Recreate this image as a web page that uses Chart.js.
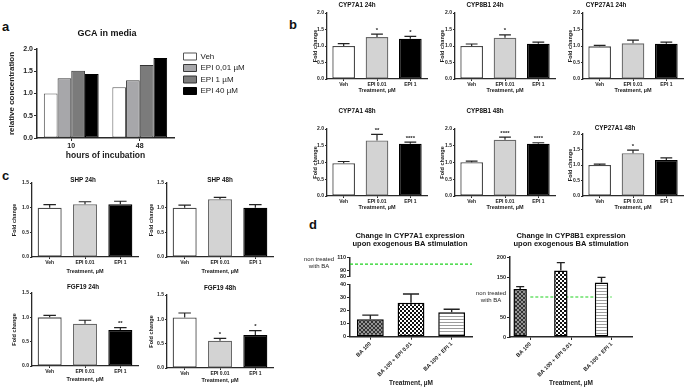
<!DOCTYPE html>
<html>
<head>
<meta charset="utf-8">
<script src="https://cdn.jsdelivr.net/npm/chart.js@4.4.1/dist/chart.umd.min.js"></script>
<style>
    body { margin: 0; background: #fff; width: 685px; height: 387px; position: relative; overflow: hidden; font-family: 'Liberation Sans', Arial, sans-serif; }
    canvas { position: absolute; }
    .panel { position: absolute; font-weight: bold; font-size: 13px; line-height: 1; color: #111; }
</style>
</head>
<body>
<div class="panel" style="left:2px;top:20px">a</div>
<div class="panel" style="left:289px;top:18px">b</div>
<div class="panel" style="left:2px;top:169px">c</div>
<div class="panel" style="left:309px;top:218px">d</div>
<script>
// panel a: GCA in media
const gcaHours = ['10', '48'];
const gcaSeries = ['Veh', 'EPI 0,01 µM', 'EPI 1 µM', 'EPI 40 µM'];
const gcaVeh = [1.00, 1.14];
const gcaEpi001 = [1.34, 1.30];
const gcaEpi1 = [1.51, 1.64];
const gcaEpi40 = [1.44, 1.80];

// panels b and c: fold change, mean + error
const treatments = ['Veh', 'EPI 0.01', 'EPI 1'];
const cyp7a1h24 = [1.00, 1.27, 1.22];
const cyp7a1h24Err = [0.07, 0.09, 0.07];
const cyp7a1h24Sig = ['', '*', '*'];
const cyp8b1h24 = [1.00, 1.25, 1.07];
const cyp8b1h24Err = [0.06, 0.09, 0.05];
const cyp8b1h24Sig = ['', '*', ''];
const cyp27a1h24 = [0.99, 1.08, 1.07];
const cyp27a1h24Err = [0.03, 0.10, 0.05];
const cyp27a1h24Sig = ['', '', ''];
const cyp7a1h48 = [0.98, 1.66, 1.56];
const cyp7a1h48Err = [0.05, 0.18, 0.05];
const cyp7a1h48Sig = ['', '**', '****'];
const cyp8b1h48 = [1.01, 1.68, 1.56];
const cyp8b1h48Err = [0.03, 0.08, 0.03];
const cyp8b1h48Sig = ['', '****', '****'];
const cyp27a1h48 = [1.00, 1.38, 1.16];
const cyp27a1h48Err = [0.03, 0.10, 0.07];
const cyp27a1h48Sig = ['', '*', ''];
const shpH24 = [1.00, 1.07, 1.07];
const shpH24Err = [0.06, 0.05, 0.06];
const shpH48 = [1.00, 1.17, 1.00];
const shpH48Err = [0.05, 0.04, 0.06];
const fgf19h24 = [1.00, 0.87, 0.74];
const fgf19h24Err = [0.04, 0.07, 0.05];
const fgf19h24Sig = ['', '', '**'];
const fgf19h48 = [1.04, 0.56, 0.68];
const fgf19h48Err = [0.09, 0.05, 0.09];
const fgf19h48Sig = ['', '*', '*'];

// panel d: expression after BA stimulation
const baGroups = ['BA 100', 'BA 100 + EPI 0.01', 'BA 100 + EPI 1'];
const cyp7a1Ba = [13.3, 26.0, 18.6];
const cyp7a1BaErr = [3.2, 6.6, 2.3];
const cyp8b1Ba = [120, 166, 136];
const cyp8b1BaErr = [6, 20, 13];
const nonTreated = 100;

const FONT = "'Liberation Sans', Arial, Helvetica, sans-serif";
Chart.defaults.font.family = FONT;
Chart.defaults.font.weight = 'bold';
Chart.defaults.color = '#222';
Chart.defaults.animation = false;
Chart.defaults.responsive = false;
Chart.defaults.plugins.tooltip.enabled = false;
Chart.defaults.plugins.legend.display = false;

const AXIS = '#2a2a2a';
const fillColors = ['#ffffff', '#d3d3d3', '#000000'];
const edgeColors = ['#4a4a4a', '#6a6a6a', '#000000'];

// error bars (upper half only) and significance stars
const errorBars = {
    id: 'errorBars',
    afterDatasetsDraw(chart) {
        const ctx = chart.ctx;
        chart.data.datasets.forEach((ds, di) => {
            if (!ds.errors) return;
            const meta = chart.getDatasetMeta(di);
            const ys = chart.scales[meta.yAxisID];
            meta.data.forEach((bar, i) => {
                const top = ys.getPixelForValue(ds.data[i] + ds.errors[i]);
                const half = bar.width * (ds.capRatio || 0.26);
                ctx.save();
                ctx.strokeStyle = '#222';
                ctx.lineWidth = ds.errWidth || 1.2;
                ctx.beginPath();
                ctx.moveTo(bar.x, bar.y);
                ctx.lineTo(bar.x, top);
                ctx.moveTo(bar.x - half, top);
                ctx.lineTo(bar.x + half, top);
                ctx.stroke();
                if (ds.stars && ds.stars[i]) {
                    ctx.fillStyle = '#222';
                    ctx.font = 'bold 6px ' + FONT;
                    ctx.textAlign = 'center';
                    ctx.textBaseline = 'bottom';
                    ctx.fillText(ds.stars[i], bar.x, top - 1);
                }
                ctx.restore();
            });
        });
    }
};

// chart title placed relative to the plot area
const heading = {
    id: 'heading',
    afterDraw(chart, args, o) {
        if (!o.lines) return;
        const { ctx, chartArea } = chart;
        ctx.save();
        ctx.font = 'bold ' + o.size + 'px ' + FONT;
        ctx.fillStyle = '#111';
        ctx.textAlign = 'center';
        ctx.textBaseline = 'middle';
        const x = (chartArea.left + chartArea.right) / 2 + (o.dx || 0);
        o.lines.forEach((t, i) => ctx.fillText(t, x, chartArea.top + o.dy + i * (o.gap || 0)));
        ctx.restore();
    }
};

// "non treated with BA" note next to the reference line
const refNote = {
    id: 'refNote',
    afterDraw(chart, args, o) {
        if (o.value === undefined) return;
        const ctx = chart.ctx;
        const y = chart.scales.y.getPixelForValue(o.value);
        ctx.save();
        ctx.font = '6px ' + FONT;
        ctx.fillStyle = '#222';
        ctx.textAlign = 'center';
        ctx.textBaseline = 'middle';
        ctx.fillText('non treated', chart.chartArea.left - o.dx, y + o.dy[0]);
        ctx.fillText('with BA', chart.chartArea.left - o.dx, y + o.dy[1]);
        ctx.restore();
    }
};

Chart.register(errorBars, heading, refNote);

function mount(x, y, w, h) {
    const c = document.createElement('canvas');
    c.width = w;
    c.height = h;
    c.style.left = x + 'px';
    c.style.top = y + 'px';
    c.style.width = w + 'px';
    c.style.height = h + 'px';
    document.body.appendChild(c);
    return c;
}

const fixWidth = w => s => { s.width = w; };
const fixHeight = h => s => { s.height = h; };

function foldChart(box, g) {
    new Chart(mount(box.x, box.y, box.w, box.h), {
        type: 'bar',
        data: {
            labels: treatments,
            datasets: [{
                data: g.values,
                errors: g.errors,
                stars: g.stars,
                backgroundColor: fillColors,
                borderColor: edgeColors,
                borderWidth: 1.3,
                borderSkipped: false,
                barPercentage: 0.68,
                categoryPercentage: 1
            }]
        },
        options: {
            layout: { padding: { top: box.pt, right: box.pr, bottom: 0, left: 0 } },
            plugins: {
                heading: { lines: [g.title], size: 6.3, dx: g.dx, dy: g.dy }
            },
            scales: {
                x: {
                    grid: { drawOnChartArea: false, offset: false, tickLength: 2, color: AXIS },
                    border: { color: AXIS, width: 1.3 },
                    ticks: { font: { size: g.tickSize }, padding: 1, maxRotation: 0, color: '#222' },
                    title: { display: true, text: 'Treatment, µM', font: { size: 5.5 }, padding: 0 },
                    afterFit: fixHeight(box.H)
                },
                y: {
                    min: 0,
                    max: g.max,
                    ticks: { stepSize: 0.5, font: { size: g.tickSize }, padding: 1, callback: v => v.toFixed(1) },
                    grid: { drawOnChartArea: false, tickLength: 2, color: AXIS },
                    border: { color: AXIS, width: 1.3 },
                    title: { display: true, text: 'Fold change', font: { size: 5.5 }, padding: 0 },
                    afterFit: fixWidth(box.W)
                }
            }
        }
    });
}

// panel a
new Chart(mount(7, 20, 243, 141), {
    type: 'bar',
    data: {
        labels: gcaHours,
        datasets: [
            { label: gcaSeries[0], data: gcaVeh, backgroundColor: '#ffffff', borderColor: '#555555', borderWidth: 1 },
            { label: gcaSeries[1], data: gcaEpi001, backgroundColor: '#a7a7aa', borderColor: '#3a3a3a', borderWidth: 1 },
            { label: gcaSeries[2], data: gcaEpi1, backgroundColor: '#7b7b7b', borderColor: '#333333', borderWidth: 1 },
            { label: gcaSeries[3], data: gcaEpi40, backgroundColor: '#000000', borderColor: '#000000', borderWidth: 1 }
        ]
    },
    options: {
        layout: { padding: { top: 29, right: 0, bottom: 0, left: 0 } },
        datasets: { bar: { barPercentage: 1, categoryPercentage: 0.8, borderSkipped: false } },
        plugins: {
            legend: {
                display: true,
                position: 'right',
                align: 'start',
                maxWidth: 70,
                labels: { boxWidth: 13, boxHeight: 7, padding: 3.5, color: '#222', font: { size: 8, weight: 'normal' } }
            },
            heading: { lines: ['GCA in media'], size: 9, dx: 1.5, dy: -15 }
        },
        scales: {
            x: {
                grid: { drawOnChartArea: false, offset: false, tickLength: 3, color: AXIS },
                border: { color: AXIS, width: 1.5 },
                ticks: { font: { size: 7 }, padding: 1 },
                title: { display: true, text: 'hours of incubation', font: { size: 8.5 }, padding: 0 },
                afterFit: fixHeight(23)
            },
            y: {
                min: 0,
                max: 2,
                ticks: { stepSize: 0.5, font: { size: 7 }, padding: 1, callback: v => v.toFixed(1) },
                grid: { drawOnChartArea: false, tickLength: 3, color: AXIS },
                border: { color: AXIS, width: 1.5 },
                title: { display: true, text: 'relative concentration', font: { size: 8 }, padding: 0 },
                afterFit: fixWidth(30)
            },
            // empty spacer between plot and legend
            gap: {
                type: 'linear',
                axis: 'y',
                position: 'right',
                ticks: { display: false },
                grid: { display: false },
                border: { display: false },
                afterFit: fixWidth(6)
            }
        }
    }
});

// panel b
foldChart({ x: 312, y: 0, w: 119, h: 94, W: 15, H: 15, pt: 13, pr: 4 },
    { title: 'CYP7A1 24h', values: cyp7a1h24, errors: cyp7a1h24Err, stars: cyp7a1h24Sig, max: 2, dx: -20, dy: -8, tickSize: 5 });
foldChart({ x: 439, y: 0, w: 120, h: 94, W: 16, H: 15, pt: 13, pr: 4 },
    { title: 'CYP8B1 24h', values: cyp8b1h24, errors: cyp8b1h24Err, stars: cyp8b1h24Sig, max: 2, dx: -20, dy: -8, tickSize: 5 });
foldChart({ x: 567, y: 0, w: 118, h: 94, W: 16, H: 15, pt: 13, pr: 2 },
    { title: 'CYP27A1 24h', values: cyp27a1h24, errors: cyp27a1h24Err, stars: cyp27a1h24Sig, max: 2, dx: -27, dy: -8, tickSize: 5 });
foldChart({ x: 312, y: 105, w: 119, h: 106, W: 15, H: 15, pt: 24, pr: 4 },
    { title: 'CYP7A1 48h', values: cyp7a1h48, errors: cyp7a1h48Err, stars: cyp7a1h48Sig, max: 2, dx: -20, dy: -17.5, tickSize: 5 });
foldChart({ x: 439, y: 105, w: 120, h: 106, W: 16, H: 15, pt: 24, pr: 4 },
    { title: 'CYP8B1 48h', values: cyp8b1h48, errors: cyp8b1h48Err, stars: cyp8b1h48Sig, max: 2, dx: -20, dy: -17.5, tickSize: 5 });
foldChart({ x: 567, y: 105, w: 118, h: 106, W: 16, H: 15, pt: 29, pr: 2 },
    { title: 'CYP27A1 48h', values: cyp27a1h48, errors: cyp27a1h48Err, stars: cyp27a1h48Sig, max: 2, dx: -18, dy: -6, tickSize: 5 });

// panel c
foldChart({ x: 11, y: 172, w: 131, h: 103, W: 21, H: 18, pt: 11, pr: 4 },
    { title: 'SHP 24h', values: shpH24, errors: shpH24Err, stars: null, max: 1.5, dx: -2, dy: -3, tickSize: 5 });
foldChart({ x: 148, y: 172, w: 129, h: 103, W: 19, H: 18, pt: 11, pr: 4 },
    { title: 'SHP 48h', values: shpH48, errors: shpH48Err, stars: null, max: 1.5, dx: 0, dy: -3, tickSize: 5 });
foldChart({ x: 11, y: 280, w: 131, h: 103, W: 21, H: 17, pt: 13, pr: 4 },
    { title: 'FGF19 24h', values: fgf19h24, errors: fgf19h24Err, stars: fgf19h24Sig, max: 1.5, dx: -2, dy: -5.5, tickSize: 5 });
foldChart({ x: 148, y: 280, w: 129, h: 104, W: 19, H: 16, pt: 15, pr: 4 },
    { title: 'FGF19 48h', values: fgf19h48, errors: fgf19h48Err, stars: fgf19h48Sig, max: 1.5, dx: 0, dy: -7, tickSize: 5 });

// panel d fill patterns
function pattern(size, draw) {
    const c = document.createElement('canvas');
    c.width = size;
    c.height = size;
    const ctx = c.getContext('2d');
    draw(ctx);
    return ctx.createPattern(c, 'repeat');
}
const meshFill = pattern(4, ctx => {
    ctx.fillStyle = '#949494';
    ctx.fillRect(0, 0, 4, 4);
    ctx.fillStyle = '#333333';
    for (let i = 0; i < 4; i++) {
        ctx.fillRect(i, i, 1, 1);
        ctx.fillRect(3 - i, i, 1, 1);
    }
});
const checkFill = pattern(4, ctx => {
    ctx.fillStyle = '#ffffff';
    ctx.fillRect(0, 0, 4, 4);
    ctx.fillStyle = '#111111';
    ctx.fillRect(0, 0, 2, 2);
    ctx.fillRect(2, 2, 2, 2);
});
const stripeFill = pattern(3, ctx => {
    ctx.fillStyle = '#ffffff';
    ctx.fillRect(0, 0, 3, 3);
    ctx.fillStyle = '#9c9c9c';
    ctx.fillRect(0, 0, 3, 1);
});
const baFills = [meshFill, checkFill, stripeFill];
const GREEN = '#1fd11f';

function baXAxis(H) {
    return {
        grid: { drawOnChartArea: false, offset: false, tickLength: 3, color: AXIS },
        border: { color: AXIS, width: 1.5 },
        ticks: { font: { size: 5.5 }, padding: 1, minRotation: 45, maxRotation: 45, color: '#222' },
        title: { display: true, text: 'Treatment, µM', font: { size: 6.5 }, padding: 0 },
        afterFit: fixHeight(H)
    };
}

// d left, upper segment of the broken axis
new Chart(mount(295, 228, 180, 53), {
    type: 'line',
    data: {
        datasets: [{
            data: [{ x: 0, y: nonTreated }, { x: 1, y: nonTreated }],
            borderColor: GREEN,
            borderWidth: 1.2,
            borderDash: [3, 2],
            pointRadius: 0
        }]
    },
    options: {
        layout: { padding: { top: 29.7, right: 3, bottom: 3.3, left: 0 } },
        plugins: {
            heading: { lines: ['Change in CYP7A1 expression', 'upon exogenous BA stimulation'], size: 7.5, dx: -1, dy: -22, gap: 8.6 },
            refNote: { value: nonTreated, dx: 31, dy: [-5, 2] }
        },
        scales: {
            x: { type: 'linear', min: 0, max: 1, display: false },
            y: {
                min: 80,
                max: 110,
                afterBuildTicks: s => { s.ticks = [80, 90, 110].map(v => ({ value: v })); },
                ticks: { font: { size: 5.5 }, padding: 1 },
                grid: { drawOnChartArea: false, tickLength: 3, color: AXIS },
                border: { color: AXIS, width: 1.5 },
                afterFit: fixWidth(55)
            }
        }
    }
});

// d left, lower segment with bars
new Chart(mount(330, 280, 145, 107), {
    type: 'bar',
    data: {
        labels: baGroups,
        datasets: [{
            data: cyp7a1Ba,
            errors: cyp7a1BaErr,
            capRatio: 0.3,
            errWidth: 1.4,
            backgroundColor: baFills,
            borderColor: '#000000',
            borderWidth: 1.5,
            borderSkipped: false,
            barPercentage: 0.66,
            categoryPercentage: 1
        }]
    },
    options: {
        layout: { padding: { top: 4.3, right: 3, bottom: 0, left: 0 } },
        scales: {
            x: baXAxis(50.3),
            y: {
                min: 0,
                max: 40,
                ticks: { stepSize: 10, font: { size: 5.5 }, padding: 1 },
                grid: { drawOnChartArea: false, tickLength: 3, color: AXIS },
                border: { color: AXIS, width: 1.5 },
                afterFit: fixWidth(20)
            }
        }
    }
});

// d right
new Chart(mount(470, 228, 165, 159), {
    type: 'bar',
    data: {
        labels: baGroups,
        datasets: [
            {
                type: 'bar',
                order: 1,
                data: cyp8b1Ba,
                errors: cyp8b1BaErr,
                capRatio: 0.3,
                errWidth: 1.4,
                backgroundColor: baFills,
                borderColor: '#000000',
                borderWidth: 1.5,
                borderSkipped: false,
                barPercentage: 0.66,
                categoryPercentage: 1
            },
            {
                type: 'line',
                order: 2,
                xAxisID: 'xRef',
                data: [{ x: 0, y: nonTreated }, { x: 1, y: nonTreated }],
                borderColor: GREEN,
                borderWidth: 1.2,
                borderDash: [3, 2],
                pointRadius: 0
            }
        ]
    },
    options: {
        layout: { padding: { top: 29, right: 3, bottom: 0, left: 0 } },
        plugins: {
            heading: { lines: ['Change in CYP8B1 expression', 'upon exogenous BA stimulation'], size: 7.5, dx: 0, dy: -21.3, gap: 8.6 },
            refNote: { value: nonTreated, dx: 19, dy: [-4, 3.7] }
        },
        scales: {
            x: baXAxis(50),
            xRef: { type: 'linear', axis: 'x', position: 'bottom', min: 0, max: 1, display: false },
            y: {
                min: 0,
                max: 200,
                afterBuildTicks: s => { s.ticks = [0, 50, 150, 200].map(v => ({ value: v })); },
                ticks: { font: { size: 5.5 }, padding: 1 },
                grid: { drawOnChartArea: false, tickLength: 3, color: AXIS },
                border: { color: AXIS, width: 1.5 },
                afterFit: fixWidth(40)
            }
        }
    }
});
</script>
</body>
</html>
